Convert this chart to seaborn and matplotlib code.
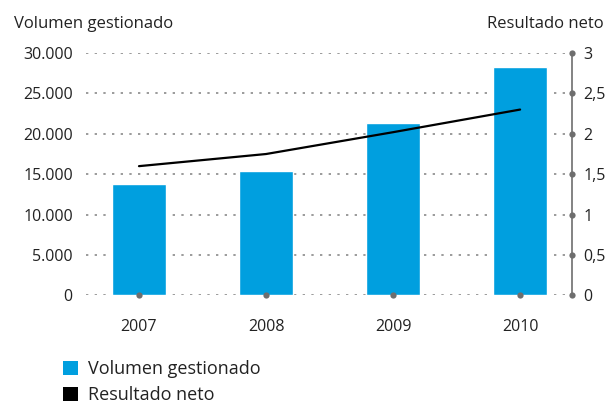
import matplotlib
matplotlib.use("Agg")
import matplotlib.pyplot as plt
from matplotlib.patches import Patch
from matplotlib.ticker import FuncFormatter
import seaborn as sns
import pandas as pd
import numpy as np

# Data
years = ["2007", "2008", "2009", "2010"]
volumen_gestionado = [13800, 15400, 21300, 28300]
resultado_neto = [1.6, 1.75, 2.02, 2.3]
left_ticks = [0, 5000, 10000, 15000, 20000, 25000, 30000]
right_ticks = [0, 0.5, 1, 1.5, 2, 2.5, 3]

BLUE = "#009FDF"
GREY = "#6E6E6E"
TEXT = "#222222"

sns.set_theme(style="white")
plt.rcParams["font.family"] = ["Open Sans", "DejaVu Sans"]

df = pd.DataFrame({"year": years, "volumen": volumen_gestionado, "neto": resultado_neto})

fig = plt.figure(figsize=(6.1, 4.05), dpi=100)
ax = fig.add_axes([0.141, 0.2704, 0.797, 0.5988])

# horizontal dotted gridlines behind bars
ax.set_axisbelow(True)
ax.yaxis.grid(True, color="#8A8A8A", linestyle=(0, (1.4, 3.8)), linewidth=1.2)
ax.xaxis.grid(False)

sns.barplot(data=df, x="year", y="volumen", color=BLUE, width=0.425,
            saturation=1, ax=ax, zorder=2)

ax.set_ylim(0, 30000)
ax.set_xlim(-0.417, 3.41)
ax.set_yticks(left_ticks)
ax.yaxis.set_major_formatter(FuncFormatter(lambda v, p: f"{int(v):,}".replace(",", ".")))
ax.set_xlabel("")
ax.set_ylabel("")
for s in ax.spines.values():
    s.set_visible(False)

ax.tick_params(axis="y", length=0, pad=9.5, labelsize=11.5, labelcolor=TEXT)
ax.tick_params(axis="x", length=0, pad=17, labelsize=11.5, labelcolor=TEXT)

# round gray markers on the baseline, in front of each bar
ax.plot(np.arange(len(years)), np.zeros(len(years)), linestyle="none", marker="o",
        markersize=4.5, color=GREY, markeredgewidth=0, clip_on=False, zorder=5)

# secondary axis for the line series
ax2 = ax.twinx()
ax2.set_ylim(0, 3)
ax2.set_yticks(right_ticks)
ax2.yaxis.set_major_formatter(FuncFormatter(lambda v, p: f"{v:g}".replace(".", ",")))
sns.lineplot(x=np.arange(len(years)), y=resultado_neto, color="black",
             linewidth=1.6, ax=ax2, zorder=4)
ax2.set_ylabel("")
for name, s in ax2.spines.items():
    s.set_visible(name == "right")
ax2.spines["right"].set_color(GREY)
ax2.spines["right"].set_linewidth(1.2)
ax2.tick_params(axis="y", length=0, pad=8, labelsize=11.5, labelcolor=TEXT)
for t in ax2.yaxis.get_major_ticks():
    t.tick2line.set_marker("o")
    t.tick2line.set_markersize(4.5)
    t.tick2line.set_color(GREY)
    t.tick2line.set_markeredgewidth(0)
ax2.set_xlim(-0.417, 3.41)

# axis titles
fig.text(14 / 610, 1 - 28 / 405, "Volumen gestionado", fontsize=12, color=TEXT,
         ha="left", va="baseline")
fig.text(604 / 610, 1 - 28 / 405, "Resultado neto", fontsize=12, color=TEXT,
         ha="right", va="baseline")

# legend
handles = [Patch(facecolor=BLUE, edgecolor="none", label="Volumen gestionado"),
           Patch(facecolor="black", edgecolor="none", label="Resultado neto")]
fig.legend(handles=handles, loc="upper left", bbox_to_anchor=(63 / 610, 1 - 360 / 405),
           frameon=False, fontsize=13, handlelength=0.85, handleheight=0.85,
           handletextpad=0.55, labelspacing=0.45, borderaxespad=0, borderpad=0,
           labelcolor=TEXT)

fig.savefig("out.png", dpi=100)
